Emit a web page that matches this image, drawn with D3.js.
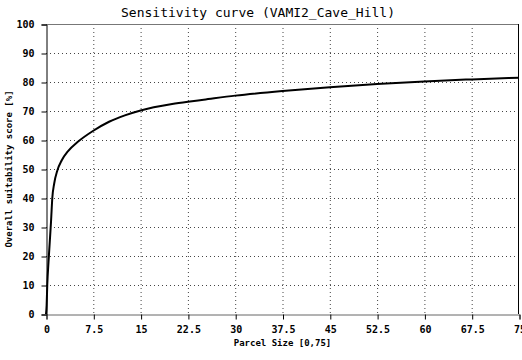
<!DOCTYPE html>
<html lang="en">
<head>
<meta charset="UTF-8">
<title>Sensitivity curve</title>
<style>
    body, html { margin: 0; padding: 0; background: #fff; }
    svg { display: block; }
    .tick text { font: bold 10px "DejaVu Sans Mono", monospace; fill: #000; }
    .title { font: 13px "DejaVu Sans Mono", monospace; }
    .axis-title { font: bold 9px "DejaVu Sans Mono", monospace; }
</style>
</head>
<body>
<svg width="522" height="360"></svg>
<script src="https://d3js.org/d3.v7.min.js"></script>
<script>
    // parcel size values and the score
    const parcelSize = [0, 0.1, 0.2, 0.4, 0.6, 0.8, 1.0, 1.3, 1.8, 2.5, 3.5, 5, 7.5, 10, 12.5, 15,
        20, 22.5, 25, 30, 37.5, 45, 52.5, 60, 67.5, 75];
    const score = [0, 3, 10, 18, 25, 32, 40, 45, 49.5, 53, 56.2, 59.3, 63.2, 66.3, 68.5, 70.2,
        72.4, 73.2, 73.9, 75.3, 76.9, 78.2, 79.3, 80.2, 80.9, 81.5];
    const xTicks = [0, 7.5, 15, 22.5, 30, 37.5, 45, 52.5, 60, 67.5, 75];
    const yTicks = [0, 10, 20, 30, 40, 50, 60, 70, 80, 90, 100];

    const svg = d3.select("svg");
    const margin = { top: 24, right: 3, bottom: 46, left: 46 };
    const width = 522, height = 360;

    const x = d3.scaleLinear().domain([0, 75]).range([margin.left, width - margin.right]);
    const y = d3.scaleLinear().domain([0, 100]).range([height - margin.bottom, margin.top]);

    // grid
    const grid = svg.append("g").attr("stroke", "#444").attr("stroke-dasharray", "1,3");
    grid.selectAll(".gx").data(xTicks.slice(1, -1)).enter().append("line")
        .attr("x1", d => x(d) + 0.5).attr("x2", d => x(d) + 0.5)
        .attr("y1", y(100)).attr("y2", y(0));
    grid.selectAll(".gy").data(yTicks.slice(1, -1)).enter().append("line")
        .attr("y1", d => y(d) + 0.5).attr("y2", d => y(d) + 0.5)
        .attr("x1", x(0)).attr("x2", x(75));

    // frame top / right
    svg.append("line").attr("x1", x(0)).attr("x2", x(75)).attr("y1", y(100) + 0.5).attr("y2", y(100) + 0.5)
        .attr("stroke", "#777");
    svg.append("line").attr("x1", x(75) - 0.5).attr("x2", x(75) - 0.5).attr("y1", y(100)).attr("y2", y(0))
        .attr("stroke", "#000");

    const xAxis = svg.append("g")
        .attr("transform", `translate(0.5,${y(0) + 0.5})`)
        .call(d3.axisBottom(x).tickValues(xTicks).tickSize(5).tickPadding(6).tickFormat(d => d));
    xAxis.select(".domain").attr("stroke", "#666");
    xAxis.selectAll(".tick line").attr("stroke", "#000");

    const yAxis = svg.append("g")
        .attr("transform", `translate(${x(0) + 0.5},0.5)`)
        .call(d3.axisLeft(y).tickValues(yTicks).tickSize(5).tickPadding(7));
    yAxis.select(".domain").attr("stroke", "#000");

    // curve
    const pts = parcelSize.map((p, i) => [p, score[i]]);
    svg.append("path")
        .datum(pts)
        .attr("fill", "none")
        .attr("stroke", "#000")
        .attr("stroke-width", 2)
        .attr("d", d3.line().x(d => x(d[0])).y(d => y(d[1])).curve(d3.curveMonotoneX));

    svg.append("text").attr("class", "title")
        .attr("x", 258).attr("y", 17).attr("text-anchor", "middle")
        .text("Sensitivity curve (VAMI2_Cave_Hill)");

    svg.append("text").attr("class", "axis-title")
        .attr("x", (x(0) + x(75)) / 2).attr("y", 346).attr("text-anchor", "middle")
        .text("Parcel Size [0,75]");

    svg.append("text").attr("class", "axis-title")
        .attr("transform", `translate(12,${(y(0) + y(100)) / 2}) rotate(-90)`)
        .attr("text-anchor", "middle")
        .text("Overall suitability score [%]");
</script>
</body>
</html>
